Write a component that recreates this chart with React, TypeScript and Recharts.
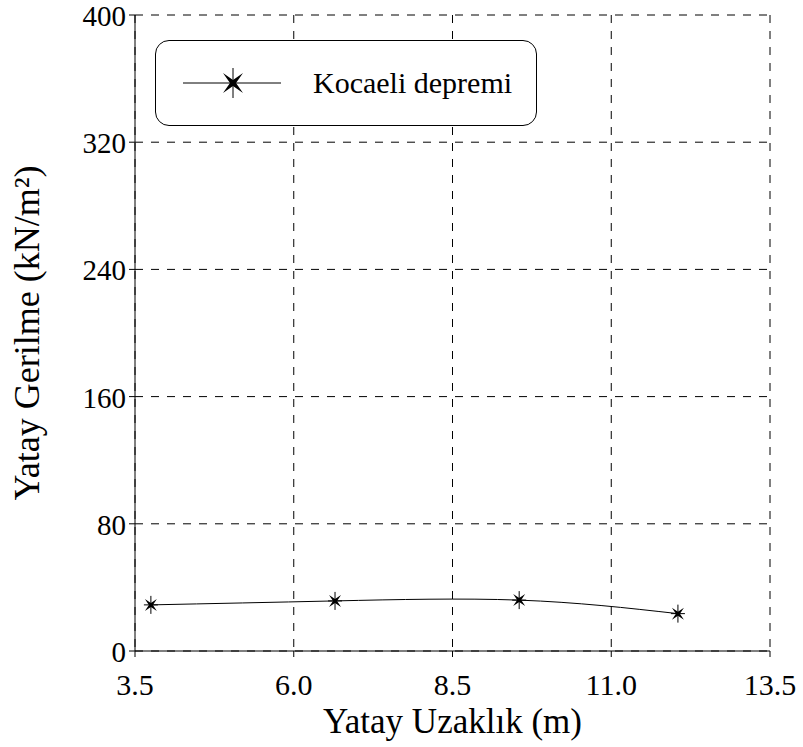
import React from "react";
import { CartesianGrid, Line, LineChart, XAxis, YAxis } from "recharts";

document.body.style.margin = "0";

const distances = [3.75, 6.65, 9.55, 12.05];
const stresses = [29, 31.5, 32, 23.5];
const xTicks = [3.5, 6.0, 8.5, 11.0, 13.5];
const yTicks = [0, 80, 160, 240, 320, 400];
const seriesName = "Kocaeli depremi";

const data = distances.map((x, i) => ({ x, y: stresses[i] }));

const FONT = '"Liberation Serif", "Times New Roman", serif';

function starPath(cx: number, cy: number, r: number, w: number) {
  return [
    `M${cx - r},${cy - r}`,
    `L${cx},${cy - w}`,
    `L${cx + r},${cy - r}`,
    `L${cx + w},${cy}`,
    `L${cx + r},${cy + r}`,
    `L${cx},${cy + w}`,
    `L${cx - r},${cy + r}`,
    `L${cx - w},${cy}`,
    "Z",
  ].join(" ");
}

const StarDot = (props: any) => {
  const { cx, cy, index } = props;
  if (cx == null || cy == null) return null;
  return (
    <g key={`dot-${index}`}>
      <line x1={cx} y1={cy - 9} x2={cx} y2={cy + 9} stroke="#000" strokeWidth={1} />
      <line x1={cx - 7} y1={cy} x2={cx + 7} y2={cy} stroke="#000" strokeWidth={1} />
      <path d={starPath(cx, cy, 6, 2)} fill="#000" />
    </g>
  );
};

const XTick = (props: any) => {
  const { x, y, payload } = props;
  return (
    <text
      x={x}
      y={y + 36}
      textAnchor="middle"
      fill="#000"
      style={{ fontFamily: FONT, fontSize: 30 }}
    >
      {Number(payload.value).toFixed(1)}
    </text>
  );
};

const YTick = (props: any) => {
  const { x, y, payload } = props;
  return (
    <text
      x={x - 1}
      y={y + 11}
      textAnchor="end"
      fill="#000"
      style={{ fontFamily: FONT, fontSize: 29 }}
    >
      {payload.value}
    </text>
  );
};

const XLabel = (props: any) => {
  const { viewBox } = props;
  return (
    <text
      x={viewBox.x + viewBox.width / 2}
      y={viewBox.y + 82}
      textAnchor="middle"
      fill="#000"
      style={{ fontFamily: FONT, fontSize: 35 }}
    >
      Yatay Uzaklık (m)
    </text>
  );
};

const YLabel = (props: any) => {
  const { viewBox } = props;
  const cx = 39;
  const cy = viewBox.y + viewBox.height / 2;
  return (
    <text
      x={cx}
      y={cy}
      transform={`rotate(-90 ${cx} ${cy})`}
      textAnchor="middle"
      fill="#000"
      style={{ fontFamily: FONT, fontSize: 36 }}
    >
      Yatay Gerilme (kN/m²)
    </text>
  );
};

const LegendBox = () => (
  <div
    style={{
      position: "absolute",
      left: 155,
      top: 40,
      boxSizing: "border-box",
      width: 382,
      height: 86,
      border: "1px solid #000",
      borderRadius: 14,
      background: "#fff",
      display: "flex",
      alignItems: "center",
      fontFamily: FONT,
      fontSize: 30,
      color: "#000",
    }}
  >
    <svg width={100} height={40} style={{ marginLeft: 27, flexShrink: 0 }}>
      <line x1={0} y1={20} x2={98} y2={20} stroke="#000" strokeWidth={1} />
      <line x1={50} y1={5} x2={50} y2={35} stroke="#000" strokeWidth={1} />
      <path d={starPath(50, 20, 10, 3)} fill="#000" />
    </svg>
    <span style={{ marginLeft: 30, whiteSpace: "nowrap" }}>{seriesName}</span>
  </div>
);

export default function App() {
  return (
    <div style={{ position: "relative", width: 803, height: 747, background: "#fff" }}>
      <LineChart
        width={803}
        height={747}
        data={data}
        margin={{ top: 15, right: 33, left: 0, bottom: 0 }}
      >
        <CartesianGrid
          stroke="#000"
          strokeDasharray="8 8"
          horizontal
          vertical
          verticalValues={xTicks}
          horizontalValues={yTicks}
        />
        <XAxis
          dataKey="x"
          type="number"
          domain={[3.5, 13.5]}
          ticks={xTicks}
          height={96}
          tickSize={6}
          axisLine={{ stroke: "#000" }}
          tickLine={{ stroke: "#000" }}
          tick={<XTick />}
          interval={0}
          label={<XLabel />}
        />
        <XAxis
          xAxisId="top"
          orientation="top"
          dataKey="x"
          type="number"
          domain={[3.5, 13.5]}
          height={0}
          tick={false}
          tickLine={false}
          axisLine={{ stroke: "#000" }}
        />
        <YAxis
          type="number"
          domain={[0, 400]}
          ticks={yTicks}
          width={135}
          tickSize={6}
          axisLine={{ stroke: "#000" }}
          tickLine={{ stroke: "#000" }}
          tick={<YTick />}
          interval={0}
          label={<YLabel />}
        />
        <YAxis
          yAxisId="right"
          orientation="right"
          type="number"
          domain={[0, 400]}
          width={0}
          tick={false}
          tickLine={false}
          axisLine={{ stroke: "#000" }}
        />
        <Line
          type="natural"
          dataKey="y"
          name={seriesName}
          stroke="#000"
          strokeWidth={1}
          dot={<StarDot />}
          activeDot={false}
          isAnimationActive={false}
        />
      </LineChart>
      <LegendBox />
    </div>
  );
}
